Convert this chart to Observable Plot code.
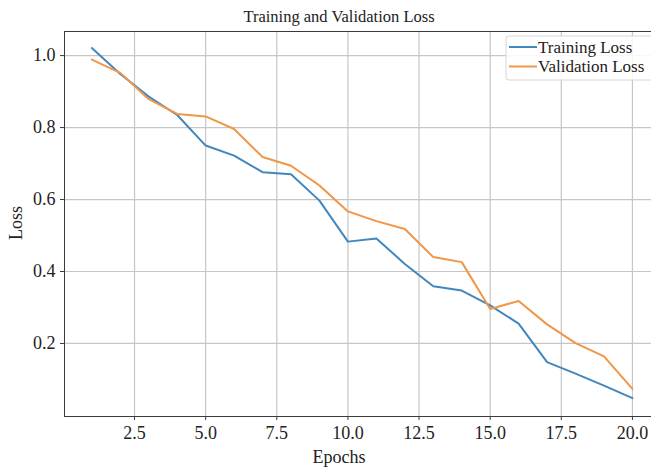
<!DOCTYPE html>
<html><head><meta charset="utf-8">
<script src="https://cdn.jsdelivr.net/npm/d3@7"></script>
<script src="https://cdn.jsdelivr.net/npm/@observablehq/plot@0.6"></script>
<style>body{margin:0;background:#fff} svg{display:block}</style>
</head><body><div id="chart"></div>
<script>
const epochs = [1,2,3,4,5,6,7,8,9,10,11,12,13,14,15,16,17,18,19,20];
const trainingLoss = [1.021,0.949,0.886,0.835,0.750,0.722,0.676,0.670,0.597,0.483,0.492,0.421,0.359,0.347,0.306,0.255,0.148,0.116,0.083,0.048];
const validationLoss = [0.989,0.952,0.879,0.838,0.831,0.796,0.718,0.694,0.639,0.567,0.540,0.518,0.440,0.426,0.296,0.318,0.253,0.201,0.164,0.074];
const seriesNames = ["Training Loss","Validation Loss"];
const seriesColors = ["#4187be","#f09646"];
const xTicks = [2.5,5,7.5,10,12.5,15,17.5,20];
const yTicks = [0.2,0.4,0.6,0.8,1.0];
const titleText = "Training and Validation Loss";
const xLabel = "Epochs";
const yLabel = "Loss";

const data = epochs.flatMap((e,i)=>[
  {epoch:e, loss:trainingLoss[i], series:seriesNames[0]},
  {epoch:e, loss:validationLoss[i], series:seriesNames[1]}
]);

const font = "'Liberation Serif', 'DejaVu Serif', serif";
const plot = Plot.plot({
  width:651, height:469,
  marginLeft:64, marginRight:0, marginTop:31, marginBottom:53,
  style:{fontFamily:font, fontSize:"18px", background:"#fff", color:"#222", overflow:"visible"},
  x:{domain:[0.039,20.67]},
  y:{domain:[-0.003,1.067]},
  color:{domain:seriesNames, range:seriesColors},
  marks:[
    Plot.gridX(xTicks,{stroke:"#c6c6c6", strokeOpacity:1, strokeWidth:1.2}),
    Plot.gridY(yTicks,{stroke:"#c6c6c6", strokeOpacity:1, strokeWidth:1.2}),
    Plot.line(data,{x:"epoch", y:"loss", stroke:"series", strokeWidth:2}),
    Plot.frame({stroke:"#3a3a3a", strokeWidth:1}),
    Plot.axisX({ticks:xTicks, tickFormat:d3.format(".1f"), tickSize:4, tickPadding:6, label:null, fontSize:18, stroke:"#3a3a3a"}),
    Plot.axisY({ticks:yTicks, tickFormat:d3.format(".1f"), tickSize:4, tickPadding:5, label:null, fontSize:18, stroke:"#3a3a3a"}),
    Plot.text([titleText], {text:d=>d, frameAnchor:"top", lineAnchor:"middle", dy:-15, dx:-19, fontSize:16.5, fill:"#222"}),
    Plot.text([xLabel], {text:d=>d, frameAnchor:"bottom", lineAnchor:"middle", dy:41, dx:-19, fontSize:18, fill:"#222"}),
    Plot.text([yLabel], {text:d=>d, frameAnchor:"left", lineAnchor:"middle", rotate:-90, dx:-48, dy:16, fontSize:18, fill:"#222"})
  ]
});
document.getElementById("chart").appendChild(plot);

// legend inside the plot (upper right)
const svg = d3.select(plot);
const lg = svg.append("g").attr("transform","translate(506,36)")
  .style("font-family",font).style("font-size","17px").attr("text-anchor","start");
lg.append("rect").attr("x",0).attr("y",0).attr("width",152).attr("height",44).attr("rx",3)
  .attr("fill","#fff").attr("fill-opacity",0.85).attr("stroke","#d6d6d6");
seriesNames.forEach((name,i)=>{
  const y = 11 + i*19.5;
  lg.append("line").attr("x1",3).attr("x2",31).attr("y1",y).attr("y2",y)
    .attr("stroke",seriesColors[i]).attr("stroke-width",2);
  lg.append("text").attr("x",32).attr("y",y).attr("dy","0.33em")
    .attr("fill","#222").attr("text-anchor","start").text(name);
});
</script>
</body></html>
